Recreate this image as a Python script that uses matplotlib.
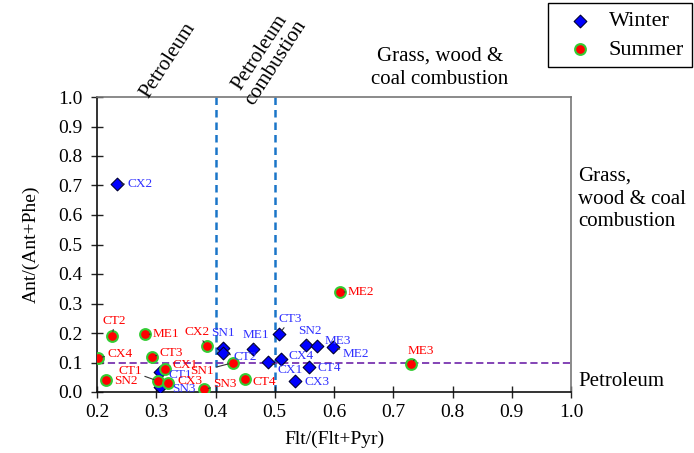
import matplotlib.pyplot as plt

plt.rcParams['font.family'] = ['Liberation Serif', 'DejaVu Serif']

# diagnostic ratio data
winter_labels = ['CX2', 'SN1', 'CT2', 'ME1', 'CT3', 'SN2', 'ME3', 'ME2',
                 'CX4', 'CX1', 'CT4', 'CX3', 'CT1', 'SN3']
winter_flt = [0.234, 0.412, 0.413, 0.464, 0.508, 0.553, 0.572, 0.599,
              0.511, 0.489, 0.558, 0.534, 0.307, 0.307]
winter_ant = [0.705, 0.148, 0.131, 0.145, 0.197, 0.159, 0.156, 0.152,
              0.112, 0.101, 0.086, 0.038, 0.069, 0.018]

summer_labels = ['CT2', 'ME1', 'CX4', 'CT3', 'SN2', 'CT1', 'CX1', 'CX3',
                 'CX2', 'SN1', 'SN3', 'CT4', 'ME2', 'ME3']
summer_flt = [0.226, 0.281, 0.202, 0.292, 0.215, 0.303, 0.315, 0.320,
              0.385, 0.429, 0.381, 0.450, 0.610, 0.730]
summer_ant = [0.191, 0.196, 0.116, 0.120, 0.041, 0.037, 0.077, 0.029,
              0.156, 0.099, 0.009, 0.043, 0.339, 0.095]

# label placement: (dx px, dy px, ha, leader line)
winter_off = {
    'CX2': (10, 0, 'left', True), 'SN1': (0, 15, 'center', False),
    'CT2': (10, -4, 'left', True), 'ME1': (3, 14, 'center', True),
    'CT3': (11, 15, 'center', True), 'SN2': (4, 14, 'center', True),
    'ME3': (7, 5, 'left', True), 'ME2': (9, -7, 'left', True),
    'CX4': (7, 3, 'left', True), 'CX1': (9, -8, 'left', True),
    'CT4': (8, -1, 'left', False), 'CX3': (10, -1, 'left', False),
    'CT1': (8, -3, 'left', False), 'SN3': (12, -2, 'left', False),
}
summer_off = {
    'CT2': (2, 15, 'center', True), 'ME1': (8, 0, 'left', True),
    'CX4': (9, 4, 'left', True), 'CT3': (8, 4, 'left', True),
    'SN2': (8, -1, 'left', False), 'CT1': (-16, 10, 'right', True),
    'CX1': (7, 4, 'left', False), 'CX3': (9, 2, 'left', False),
    'CX2': (-10, 14, 'center', True), 'SN1': (-19, -8, 'right', True),
    'SN3': (9, 5, 'left', True), 'CT4': (7, -3, 'left', False),
    'ME2': (8, 0, 'left', True), 'ME3': (10, 13, 'center', True),
}

blue_txt = '#3030ff'
red_txt = '#ff0000'

fig = plt.figure(figsize=(6.94, 4.53), dpi=100)
ax = fig.add_axes([97 / 694, 1 - 392 / 453, 474 / 694, 295 / 453])

ax.axvline(0.4, color='#1a75c8', ls=(0, (3, 2)), lw=1.8, zorder=1)
ax.axvline(0.5, color='#1a75c8', ls=(0, (3, 2)), lw=1.8, zorder=1)
ax.axhline(0.1, color='#7a35b0', ls=(0, (4, 2)), lw=1.3, zorder=1)

ax.scatter(winter_flt, winter_ant, marker='D', s=42, c='#0000ff',
           edgecolors='#000033', linewidths=0.8, zorder=3, label='Winter')
ax.scatter(summer_flt, summer_ant, marker='o', s=60, c='#ff0000',
           edgecolors='#33cc33', linewidths=1.5, zorder=3, label='Summer')


def put_labels(xs, ys, labels, offs, col):
    for x, y, lab in zip(xs, ys, labels):
        dx, dy, ha, line = offs[lab]
        ap = dict(arrowstyle='-', color='#333333', lw=0.8,
                  shrinkA=0, shrinkB=3) if line else None
        ax.annotate(lab, (x, y), xytext=(dx * 0.72, dy * 0.72),
                    textcoords='offset points', ha=ha, va='center',
                    fontsize=9.5, color=col, arrowprops=ap, zorder=4)


put_labels(winter_flt, winter_ant, winter_labels, winter_off, blue_txt)
put_labels(summer_flt, summer_ant, summer_labels, summer_off, red_txt)

ax.set_xlim(0.2, 1.0)
ax.set_ylim(0.0, 1.0)
ax.set_xticks([0.2 + 0.1 * i for i in range(9)])
ax.set_yticks([0.1 * i for i in range(11)])
ax.xaxis.set_major_formatter(plt.FormatStrFormatter('%.1f'))
ax.yaxis.set_major_formatter(plt.FormatStrFormatter('%.1f'))
ax.tick_params(direction='inout', length=9, width=1, labelsize=14,
               color='#222222')
ax.tick_params(axis='y', pad=6)
ax.tick_params(axis='x', pad=4)
for s in ['left', 'bottom']:
    ax.spines[s].set_color('#111111')
    ax.spines[s].set_linewidth(1.2)
for s in ['top', 'right']:
    ax.spines[s].set_color('#777777')
    ax.spines[s].set_linewidth(1.2)

ax.set_xlabel('Flt/(Flt+Pyr)', fontsize=14, labelpad=7)
ax.set_ylabel('Ant/(Ant+Phe)', fontsize=14, labelpad=13)

# source region annotations
fig.text(168 / 694, 1 - 60 / 453, 'Petroleum', rotation=57, fontsize=15,
         ha='center', va='center')
fig.text(268 / 694, 1 - 58 / 453, 'Petroleum\ncombustion', rotation=57,
         fontsize=15, ha='center', va='center', linespacing=1.0)
fig.text(440 / 694, 1 - 68 / 453, 'Grass, wood &\ncoal combustion',
         fontsize=15, ha='center', va='center', linespacing=1.3)
fig.text(578 / 694, 1 - 199 / 453, 'Grass,\nwood & coal\ncombustion',
         fontsize=15, ha='left', va='center', linespacing=1.25)
fig.text(578 / 694, 1 - 382 / 453, 'Petroleum', fontsize=15,
         ha='left', va='center')

leg = fig.legend(loc='upper right', bbox_to_anchor=(692 / 694, 1 - 3 / 453),
                 fontsize=16, frameon=True, fancybox=False, framealpha=1,
                 edgecolor='black', handletextpad=0.2, borderpad=0.35,
                 labelspacing=0.35, handlelength=2.2, borderaxespad=0)
leg.get_frame().set_linewidth(1.0)

fig.savefig('out.png', dpi=100)
